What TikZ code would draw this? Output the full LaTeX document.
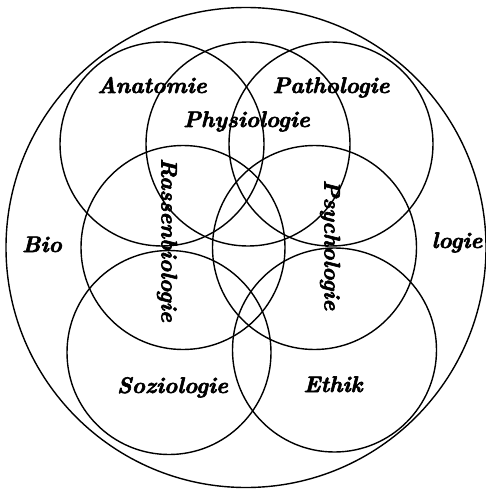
\RequirePackage{fix-cm}
\documentclass[tikz,border=0pt]{standalone}
\newcommand{\heavytext}[1]{\special{pdf:literal direct 2 Tr 0.6 w}#1\special{pdf:literal direct 0 Tr}}
\begin{document}
\begin{tikzpicture}[x=1pt,y=-1pt,
  ring/.style={draw=black,line width=1.4pt},
  lbl/.style={font=\fontsize{22.5}{26}\selectfont\bfseries\itshape,inner sep=0pt}]
\useasboundingbox (0,0) rectangle (486,490);
% outer circle
\draw[ring] (246,247.5) circle[radius=240];
% seven circles
\coordinate (cAna) at (162,144);
\coordinate (cPhy) at (248,144);
\coordinate (cPat) at (331,144);
\coordinate (cRas) at (183,247.5);
\coordinate (cPsy) at (314.5,247.5);
\coordinate (cSoz) at (169,352.5);
\coordinate (cEth) at (334.5,350);
\foreach \c in {cAna,cPhy,cPat,cRas,cPsy,cSoz,cEth}
  \draw[ring] (\c) circle[radius=102];
% labels
\node[lbl,anchor=base] (ana) at (152,93) {\heavytext{Anatomie}};
\node[lbl,anchor=base] (pat) at (331,93) {\heavytext{Pathologie}};
\node[lbl,anchor=base] (phy) at (246.5,127) {\heavytext{Physiologie}};
\node[lbl,rotate=-90] (ras) at (167,240) {\heavytext{Rassenbiologie}};
\node[lbl,rotate=-90] (psy) at (330,245) {\heavytext{Psychologie}};
\node[lbl,anchor=base] (bio) at (42,252) {\heavytext{Bio}};
\node[lbl,anchor=base] (log) at (457,248) {\heavytext{logie}};
\node[lbl,anchor=base] (soz) at (172.5,393) {\heavytext{Soziologie}};
\node[lbl,anchor=base] (eth) at (333,392) {\heavytext{Ethik}};
\end{tikzpicture}
\end{document}
